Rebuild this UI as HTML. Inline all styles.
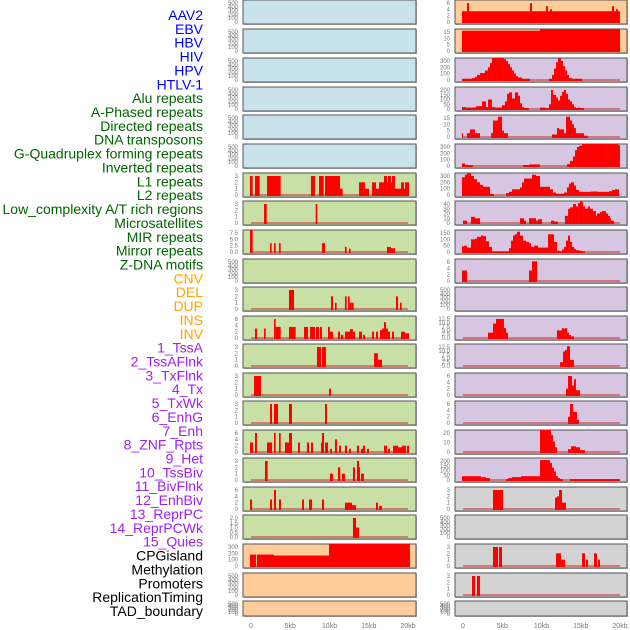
<!DOCTYPE html>
<html><head><meta charset="utf-8">
<style>
html,body{margin:0;padding:0;background:#fff;width:630px;height:630px;overflow:hidden}
svg{display:block;font-family:"Liberation Sans",sans-serif}
</style></head>
<body>
<svg id="chart" width="630" height="630" viewBox="0 0 630 630" xmlns="http://www.w3.org/2000/svg"></svg>
<script>
const labels = ["AAV2","EBV","HBV","HIV","HPV","HTLV-1","Alu repeats","A-Phased repeats","Directed repeats","DNA transposons","G-Quadruplex forming repeats","Inverted repeats","L1 repeats","L2 repeats","Low_complexity A/T rich regions","Microsatellites","MIR repeats","Mirror repeats","Z-DNA motifs","CNV","DEL","DUP","INS","INV","1_TssA","2_TssAFlnk","3_TxFlnk","4_Tx","5_TxWk","6_EnhG","7_Enh","8_ZNF_Rpts","9_Het","10_TssBiv","11_BivFlnk","12_EnhBiv","13_ReprPC","14_ReprPCWk","15_Quies","CPGisland","Methylation","Promoters","ReplicationTiming","TAD_boundary"];
const labelGroups = [6,13,5,15,5];
const xTicks = [0,5,10,15,20];
const xTickLabels = ["0","5kb","10kb","15kb","20kb"];
const T500=[0,100,200,300,400,500], T3=[0,1,2,3], T6=[0,2,4,6];
const leftTicks = [T500,T500,T500,T500,T500,T500,T3,T3,[0,2.5,5,7.5],T500,T3,T6,T3,T3,T3,T6,T3,T6,[0,0.5,1,1.5,2],[0,100,200,300],T500,T500];
const rightTicks = [T6,[0,5,10,15],[0,100,200,300],[0,50,100,150,200],[0,5,10,15],[0,100,200,300],[0,100,200,300],[0,10,20,30,40],[0,50,100,150],T6,T500,[0,2.5,5,7.5,10,12.5],[0,2.5,5,7.5,10,12.5],T6,T6,[0,10,20],[0,50,100,150,200],T3,T500,T3,T3,T500];
const leftFill = ["b","b","b","b","b","b","g","g","g","g","g","g","g","g","g","g","g","g","g","p","p","p"];
const rightFill = ["p","p","l","l","l","l","l","l","l","l","l","l","l","l","l","l","l","y","y","y","y","y"];
const leftBars = [[],[],[],[],[],[],
[[-0.13,0.21,3],[0.51,1.1,3],[2.04,3.78,3],[7.64,8.15,3],[8.66,9.26,3],[9.43,11.34,3],[11.34,11.68,1],[13.76,14.52,2],[14.52,15.03,1],[15.41,15.92,2],[15.92,16.31,1],[16.31,16.94,2],[16.94,17.32,3],[17.32,17.45,2],[17.45,17.83,3],[17.83,17.96,2],[17.96,18.34,3],[18.34,19.11,1],[19.11,19.49,2],[19.49,19.62,1],[19.62,20.13,2]],
[[1.66,2.0,3],[8.24,8.45,3]],
[[-0.13,0.21,9],[2.42,2.63,3.5],[2.93,3.14,3.5],[3.57,3.78,3.5],[9.04,9.43,3.5],[11.97,12.19,2],[12.48,12.7,1.3],[17.32,17.83,2],[17.83,18.34,1.5]],
[],
[[4.84,5.48,3],[10.19,10.45,2],[10.7,10.91,1],[11.97,12.19,2],[12.36,12.57,2],[12.57,12.82,1],[12.82,13.08,1],[18.47,18.73,2],[18.98,19.19,1]],
[[0.51,0.76,3],[1.66,1.87,3],[2.93,3.14,6],[3.14,3.78,3.5],[4.84,5.69,3.5],[6.75,7.26,3.5],[7.52,8.15,3.5],[8.28,8.66,3.5],[8.79,9.04,3.5],[9.81,10.06,3.5],[10.06,10.19,2],[10.19,10.45,2],[11.08,11.34,2],[11.46,11.76,1],[11.97,12.61,2],[12.61,12.99,2.8],[12.99,13.25,2],[13.76,14.14,2],[14.27,14.52,1],[15.41,15.67,2],[15.92,16.18,2],[16.43,16.69,2.5],[16.69,16.94,3],[16.94,17.2,5],[17.2,17.45,3],[17.45,17.71,2],[17.96,18.22,2],[19.11,19.62,2],[19.62,20.13,1.5]],
[[8.41,8.92,3],[9.04,9.55,3],[15.67,16.18,2],[16.18,16.69,1]],
[[0.38,1.27,3],[9.94,10.19,1]],
[[2.42,2.68,3],[2.93,3.44,3],[4.84,5.22,3],[9.43,9.68,3]],
[[-0.13,0.25,3],[0.51,0.76,6],[2.04,2.68,3],[2.93,3.14,6],[3.57,3.78,6],[4.33,4.84,3],[4.84,5.22,6],[5.99,6.24,3],[7.13,7.39,3],[7.64,7.9,3],[8.92,9.17,3],[9.04,9.3,6],[9.43,9.81,3],[10.06,10.32,1],[10.7,10.96,4],[11.21,11.46,2],[11.97,12.23,2],[12.48,12.74,1],[13.5,13.76,2],[14.01,14.27,1],[14.27,14.52,2],[14.78,15.03,1],[16.94,17.32,2],[17.45,17.71,1],[18.09,18.73,2],[18.73,19.24,1.5],[19.24,19.75,2],[19.87,20.13,2]],
[[1.78,2.12,3],[10.06,10.45,1],[11.08,11.38,2],[11.59,11.97,1],[12.99,13.25,2],[13.5,13.76,3],[13.76,13.89,2],[14.01,14.39,1]],
[[-0.13,0.13,3],[2.42,2.68,3],[2.93,3.18,6],[3.57,3.82,3],[6.5,6.75,3],[7.39,7.77,3],[9.04,9.3,3],[11.97,12.87,2],[12.87,13.38,1.2],[15.92,16.18,2],[16.31,16.69,1]],
[[12.99,13.38,2],[13.38,13.76,1]],
[[-0.13,0.64,180],[0.76,2.93,180],[2.93,9.94,165],[9.94,20.25,400]],
[],[]];
const rightBars = [
[[-0.13,20,3.4],[0.51,0.76,6],[8.54,8.79,6],[10.57,10.83,5],[11.08,11.34,4],[18.98,19.24,5],[19.49,19.75,4]],
[[-0.13,9.81,16],[9.81,20,18]],
[[-0.13,1.15,20],[1.15,1.53,30],[1.53,1.78,50],[1.78,2.17,80],[2.17,2.8,110],[2.8,3.18,150],[3.18,3.44,200],[3.44,3.69,270],[3.69,3.95,350],[3.95,5.22,370],[5.22,5.48,330],[5.48,5.73,300],[5.73,5.99,250],[5.99,6.24,200],[6.24,6.5,150],[6.5,6.75,100],[6.75,7.01,60],[7.01,7.52,40],[7.52,8.54,20],[10.96,11.34,20],[11.34,11.59,80],[11.59,11.85,180],[11.85,12.1,280],[12.1,12.48,340],[12.48,12.74,300],[12.74,12.99,220],[12.99,13.25,150],[13.25,13.5,80],[13.5,13.89,30],[13.89,15.16,20]],
[[-0.13,0.38,20],[0.38,1.66,15],[1.66,2.42,30],[2.42,2.93,80],[2.93,3.18,20],[3.18,3.69,100],[3.69,4.08,20],[4.08,4.97,15],[4.97,5.35,40],[5.35,5.61,80],[5.61,5.86,160],[5.86,6.24,175],[6.24,6.62,110],[6.62,7.01,175],[7.01,7.26,140],[7.26,7.52,60],[7.52,7.77,20],[7.77,8.41,10],[9.81,10.45,15],[10.45,10.96,10],[10.96,11.21,50],[11.21,11.46,200],[11.46,11.85,150],[11.85,12.1,120],[12.1,12.36,90],[12.36,12.61,140],[12.61,12.87,180],[12.87,13.12,200],[13.12,13.38,160],[13.38,13.63,100],[13.63,13.89,80],[13.89,14.14,50],[14.14,14.39,20],[14.39,14.65,10],[14.65,14.9,15],[14.9,15.41,10]],
[[-0.13,0,3],[0.51,0.89,3],[0.89,1.53,6],[1.53,2.17,3],[3.57,3.82,3],[3.82,4.46,13],[4.46,4.97,16],[4.97,5.22,5],[5.22,5.73,3],[11.34,11.97,2],[11.97,12.23,7],[12.23,12.87,6],[12.87,13.12,3],[13.12,13.63,16],[13.63,13.89,13],[13.89,14.14,10],[14.14,14.39,7],[14.39,15.41,3],[15.41,15.92,1]],
[[-0.13,0.25,40],[0.25,0.64,20],[0.64,1.27,15],[7.64,8.41,15],[8.41,9.81,25],[13.25,13.63,30],[13.63,14.01,80],[14.01,14.27,150],[14.27,14.52,250],[14.52,14.78,300],[14.78,15.16,320],[15.16,18.34,350],[18.34,19.75,360],[19.75,20,330]],
[[-0.13,0.25,280],[0.25,0.51,320],[0.51,1.02,340],[1.02,1.4,300],[1.4,1.78,250],[1.78,2.17,200],[2.17,2.55,160],[2.55,3.44,130],[3.44,3.95,15],[5.48,5.86,30],[5.86,6.24,50],[6.24,7.26,90],[7.26,7.52,120],[7.52,7.77,200],[7.77,8.79,260],[8.79,9.3,320],[9.3,9.81,300],[9.81,11.08,130],[11.08,11.46,90],[11.46,11.85,40],[11.85,12.87,20],[12.87,13.25,40],[13.25,13.5,120],[13.5,13.76,180],[13.76,14.14,200],[14.14,14.39,150],[14.39,14.78,80],[14.78,16.31,50],[16.31,17.2,55],[17.2,18.6,50],[18.6,18.98,60],[18.98,19.36,80],[19.36,19.87,90]],
[[0,0.51,5],[1.02,1.53,13],[1.53,2.17,10],[7.26,7.77,10],[7.77,8.03,5],[8.41,9.3,10],[9.3,9.55,5],[9.55,10.06,8],[11.21,11.59,5],[11.59,12.1,3],[12.99,13.38,15],[13.38,13.63,30],[13.63,14.01,33],[14.01,14.39,40],[14.39,14.65,35],[14.65,14.9,42],[14.9,15.29,45],[15.29,15.54,35],[15.54,15.92,30],[15.92,16.18,35],[16.18,16.56,30],[16.56,16.94,25],[16.94,17.07,15],[17.07,17.45,20],[17.45,17.71,23],[17.71,18.22,25],[18.22,18.47,20],[18.47,18.73,15],[18.73,18.85,10],[18.85,19.24,5]],
[[-0.13,0.13,45],[0.13,0.51,50],[0.51,1.02,35],[1.02,1.53,100],[1.53,1.78,105],[1.78,2.29,120],[2.29,2.55,130],[2.55,2.93,125],[2.93,3.31,85],[3.31,3.69,40],[3.69,5.86,5],[5.86,6.11,30],[6.11,6.37,90],[6.37,6.62,130],[6.62,6.88,140],[6.88,7.26,160],[7.26,7.64,130],[7.64,8.03,90],[8.03,8.41,80],[8.41,8.66,70],[8.66,9.04,40],[9.04,9.55,50],[9.55,10.83,35],[10.83,11.59,140],[11.59,11.97,80],[11.97,12.36,10],[12.36,12.61,5],[12.61,12.87,20],[12.87,13.12,40],[13.12,13.38,90],[13.38,13.63,130],[13.63,13.89,80],[13.89,14.14,40],[14.14,14.39,25],[14.39,14.78,15],[14.78,15.16,10],[15.16,15.54,5]],
[[-0.13,0.51,3.3],[8.41,8.79,3.3],[8.79,9.43,6.2]],
[],
[[3.18,3.82,3.5],[3.82,4.2,9.5],[4.2,5.22,12.5],[5.22,5.48,6.5],[5.48,5.73,3.5],[11.97,12.61,5],[12.61,12.87,6.5],[12.87,12.99,6],[12.99,13.25,6.5],[13.25,13.5,3.5],[13.5,13.76,2],[13.76,14.14,1]],
[[12.36,12.74,2.5],[12.74,12.99,9.5],[12.99,13.25,10.5],[13.25,13.63,13],[13.63,14.14,4]],
[[13.12,13.38,2],[13.38,13.89,6],[13.89,14.14,3],[14.14,14.39,5],[14.39,14.9,1.5]],
[[13.38,13.63,2],[13.63,14.01,6],[14.01,14.52,3.5],[14.52,14.78,1]],
[[9.81,10.83,30],[10.83,11.21,25],[11.21,11.46,18],[11.46,11.72,11],[11.72,11.97,5],[13.38,13.76,3],[13.76,14.39,6],[14.39,14.9,5],[14.9,15.54,2]],
[[-0.13,2.29,40],[2.29,2.93,30],[2.93,3.44,20],[5.48,5.73,10],[5.73,6.24,20],[6.24,7.39,30],[7.39,9.81,40],[9.81,11.08,210],[11.08,11.34,180],[11.34,11.59,130],[11.59,11.85,90],[11.85,12.1,40],[12.1,12.36,20],[12.36,12.74,10],[13.63,20,10]],
[[3.82,5.1,3],[11.72,11.97,1.8],[11.97,12.23,2],[12.23,12.61,3],[12.61,13.12,1]],
[],
[[3.82,4.46,3],[4.59,4.97,3],[11.85,12.48,2],[12.48,12.99,1],[15.16,15.54,2],[15.67,15.92,1],[16.69,17.07,2],[17.2,17.45,1]],
[[1.15,1.53,3],[1.78,2.17,3]],
[]];

const svg = document.getElementById('chart');
const NS = 'http://www.w3.org/2000/svg';
function mk(tag, attrs, parent){ const e=document.createElementNS(NS,tag); for(const k in attrs) e.setAttribute(k,attrs[k]); (parent||svg).appendChild(e); return e; }
const fills = {b:'#c8e3eb',g:'#c8e0a6',p:'#ffcc9a',l:'#d6c6e2',y:'#d3d3d3'};
const panelTops = [0,29,58,87,115,144,173,201,230,259,287,316,344,373,401,430,458,487,515,544,573,601];
const cols = [
 {name:'left', x0:243, x1:416, zero:251, twenty:408, tickX:238, ticks:leftTicks, bars:leftBars, fill:leftFill},
 {name:'right', x0:455, x1:627, zero:463, twenty:620, tickX:450, ticks:rightTicks, bars:rightBars, fill:rightFill}
];
// labels
const labelColors = ['#0000ff','#006400','#ffa500','#a020f0','#000000'];
let gi=0, cnt=0;
labels.forEach((t,i)=>{
  while(cnt>=labelGroups[gi]){cnt=0;gi++;}
  cnt++;
  const el = mk('text',{x:203,y:15+i*13.86+5,'text-anchor':'end','font-size':14,fill:labelColors[gi]});
  el.textContent=t;
  
  
});
cols.forEach(c=>{
  const xs = v => c.zero + v*(c.twenty-c.zero)/20;
  panelTops.forEach((top,pi)=>{
    const h = pi===21 ? 15 : 24;
    const bottom = top+h;
    const g = mk('g',{});
    
    
    mk('rect',{x:c.x0+1,y:top+1,width:c.x1-c.x0,height:h,fill:'#bbb'},g);
    mk('rect',{x:c.x0,y:top,width:c.x1-c.x0,height:h,fill:fills[c.fill[pi]],stroke:'#555','stroke-width':1},g);
    const ticks = c.ticks[pi];
    const last = ticks[ticks.length-1];
    const y0 = bottom-2, span = h-5;
    const ys = v => y0 - v*span/last;
    const dec = ticks.some(t=>t%1!==0);
    ticks.forEach(t=>{
      const tl = mk('text',{x:c.tickX,y:ys(t)+2,'text-anchor':'end','font-size':6,fill:'#777'},g);
      tl.textContent = dec ? t.toFixed(1) : String(t);
      
      
    });
    const bars = c.bars[pi];
    if(bars.length){
      const cl = mk('clipPath',{id:'clip-'+c.name+pi},g);
      mk('rect',{x:c.x0,y:top,width:c.x1-c.x0,height:h},cl);
      const bg = mk('g',{'clip-path':'url(#clip-'+c.name+pi+')'},g);
      const base = mk('line',{x1:xs(0),x2:xs(20),y1:y0,y2:y0,stroke:'#d04040','stroke-width':1.6,'stroke-opacity':0.8},bg);
      
      
      bars.forEach(b=>{
        const yt = Math.max(top, ys(b[2]));
        const r = mk('rect',{x:xs(b[0]),y:yt,width:Math.max(0.8,xs(b[1])-xs(b[0])),height:Math.max(0,y0+1-yt),fill:'#ff0000'},bg);
        
        
      });
    }
  });
  xTicks.forEach((t,i)=>{
    const tl = mk('text',{x:xs(t),y:628,'text-anchor':'middle','font-size':7,fill:'#777'});
    tl.textContent = xTickLabels[i];
    
    
  });
});
</script>
</body></html>
